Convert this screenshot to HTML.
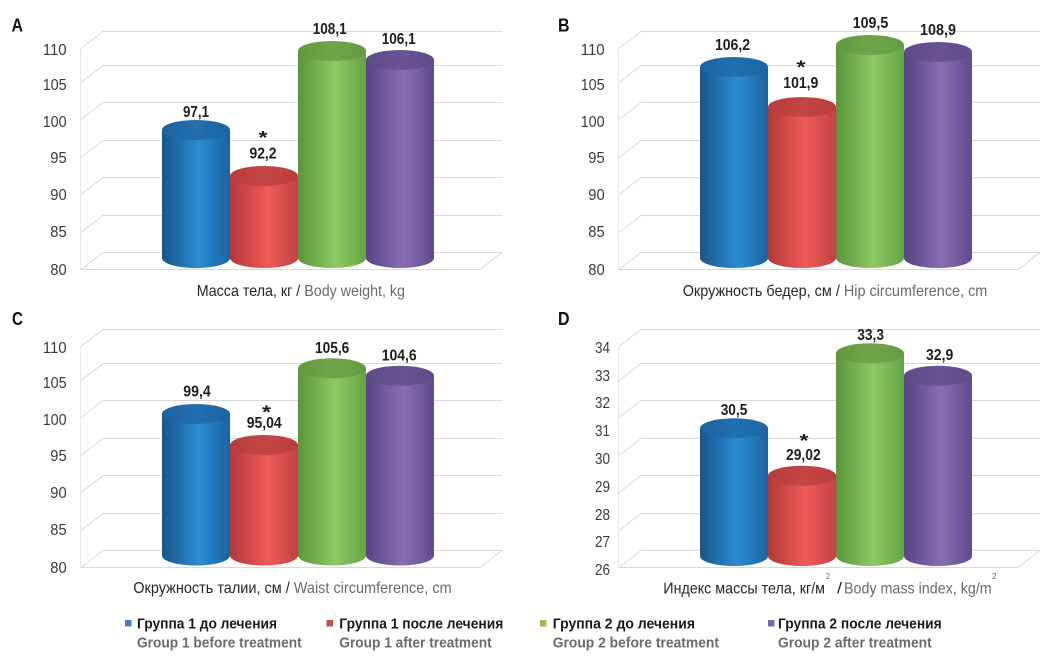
<!DOCTYPE html>
<html>
<head>
<meta charset="utf-8">
<style>
html,body{margin:0;padding:0;background:#fff;}
svg{display:block;font-family:"Liberation Sans","DejaVu Sans",sans-serif;}
.tk{font-size:16px;fill:#3a3a3a;}
.vl{font-size:16px;font-weight:bold;fill:#1e1e1e;}
.st{font-size:18px;font-weight:bold;fill:#1e1e1e;}
.tt{font-size:16px;fill:#262626;}
.gr{fill:#6a6a6a;}
.pl{font-size:18px;font-weight:bold;fill:#111;}
.l1{font-size:15px;font-weight:bold;fill:#1a1a1a;}
.l2{font-size:15px;font-weight:bold;fill:#6b6b6b;}
.g line{stroke:#d9d9d9;stroke-width:1;}
</style>
</head>
<body>
<svg width="1046" height="672" viewBox="0 0 1046 672" xmlns="http://www.w3.org/2000/svg">
<defs>
<linearGradient id="gb" x1="0" x2="1" y1="0" y2="0"><stop offset="0" stop-color="#17568a"/><stop offset="0.55" stop-color="#2b8dd3"/><stop offset="1" stop-color="#1b63a0"/></linearGradient>
<linearGradient id="cb" x1="0" x2="1" y1="0" y2="0"><stop offset="0" stop-color="#1b62a0"/><stop offset="0.5" stop-color="#2270ae"/><stop offset="1" stop-color="#1c64a2"/></linearGradient>
<linearGradient id="gr" x1="0" x2="1" y1="0" y2="0"><stop offset="0" stop-color="#b23838"/><stop offset="0.55" stop-color="#ef5b57"/><stop offset="1" stop-color="#c14242"/></linearGradient>
<linearGradient id="cr" x1="0" x2="1" y1="0" y2="0"><stop offset="0" stop-color="#b63c3b"/><stop offset="0.5" stop-color="#c44644"/><stop offset="1" stop-color="#b93e3d"/></linearGradient>
<linearGradient id="gg" x1="0" x2="1" y1="0" y2="0"><stop offset="0" stop-color="#5a963a"/><stop offset="0.55" stop-color="#8dc964"/><stop offset="1" stop-color="#66a343"/></linearGradient>
<linearGradient id="cg" x1="0" x2="1" y1="0" y2="0"><stop offset="0" stop-color="#62983f"/><stop offset="0.5" stop-color="#6fa64b"/><stop offset="1" stop-color="#649b41"/></linearGradient>
<linearGradient id="gp" x1="0" x2="1" y1="0" y2="0"><stop offset="0" stop-color="#574585"/><stop offset="0.55" stop-color="#8a6eb1"/><stop offset="1" stop-color="#5f4b8d"/></linearGradient>
<linearGradient id="cp" x1="0" x2="1" y1="0" y2="0"><stop offset="0" stop-color="#5f4a88"/><stop offset="0.5" stop-color="#6a5394"/><stop offset="1" stop-color="#614c8b"/></linearGradient>
<g id="grid" class="g">
<line x1="103" y1="31.5" x2="502" y2="31.5"/>
<line x1="103" y1="65.5" x2="502" y2="65.5"/>
<line x1="103" y1="102.5" x2="502" y2="102.5"/>
<line x1="103" y1="140.5" x2="502" y2="140.5"/>
<line x1="103" y1="177.5" x2="502" y2="177.5"/>
<line x1="103" y1="215.5" x2="502" y2="215.5"/>
<line x1="103" y1="252.5" x2="502" y2="252.5"/>
<line x1="81" y1="48.5" x2="103" y2="31.5"/>
<line x1="81" y1="82.5" x2="103" y2="65.5"/>
<line x1="81" y1="119.5" x2="103" y2="102.5"/>
<line x1="81" y1="157.5" x2="103" y2="140.5"/>
<line x1="81" y1="194.5" x2="103" y2="177.5"/>
<line x1="81" y1="232.5" x2="103" y2="215.5"/>
<line x1="81" y1="269.5" x2="103" y2="252.5"/>
<line x1="80" y1="269.5" x2="480" y2="269.5"/>
<line x1="480" y1="269.5" x2="502" y2="252.5"/>
<line x1="80.5" y1="48" x2="80.5" y2="270" style="stroke:#e8e8e8"/>
</g>
<g id="ticks100">
<text class="tk" x="42.7" y="55" textLength="24" lengthAdjust="spacingAndGlyphs">110</text>
<text class="tk" x="42.7" y="90" textLength="24" lengthAdjust="spacingAndGlyphs">105</text>
<text class="tk" x="42.7" y="127" textLength="24" lengthAdjust="spacingAndGlyphs">100</text>
<text class="tk" x="50.3" y="163" textLength="16.4" lengthAdjust="spacingAndGlyphs">95</text>
<text class="tk" x="50.3" y="200" textLength="16.4" lengthAdjust="spacingAndGlyphs">90</text>
<text class="tk" x="50.3" y="237" textLength="16.4" lengthAdjust="spacingAndGlyphs">85</text>
<text class="tk" x="50.3" y="275" textLength="16.4" lengthAdjust="spacingAndGlyphs">80</text>
</g>
</defs>

<!-- Panel letters -->
<text class="pl" x="11.5" y="31.5" textLength="11.5" lengthAdjust="spacingAndGlyphs">A</text>
<text class="pl" x="558" y="31.5" textLength="11.5" lengthAdjust="spacingAndGlyphs">B</text>
<text class="pl" x="12" y="325" textLength="11" lengthAdjust="spacingAndGlyphs">C</text>
<text class="pl" x="558" y="325" textLength="11.5" lengthAdjust="spacingAndGlyphs">D</text>

<!-- Panel A -->
<g transform="translate(0,0)">
<use href="#grid"/>
<use href="#ticks100"/>
<rect x="162" y="130" width="68" height="128" fill="url(#gb)"/><ellipse cx="196" cy="258" rx="34" ry="10" fill="url(#gb)"/><ellipse cx="196" cy="130" rx="34" ry="10" fill="url(#cb)"/>
<rect x="230" y="176" width="68" height="82" fill="url(#gr)"/><ellipse cx="264" cy="258" rx="34" ry="10" fill="url(#gr)"/><ellipse cx="264" cy="176" rx="34" ry="10" fill="url(#cr)"/>
<rect x="298" y="51" width="68" height="207" fill="url(#gg)"/><ellipse cx="332" cy="258" rx="34" ry="10" fill="url(#gg)"/><ellipse cx="332" cy="51" rx="34" ry="10" fill="url(#cg)"/>
<rect x="366" y="60" width="68" height="198" fill="url(#gp)"/><ellipse cx="400" cy="258" rx="34" ry="10" fill="url(#gp)"/><ellipse cx="400" cy="60" rx="34" ry="10" fill="url(#cp)"/>
<text class="vl" x="183" y="117" textLength="26" lengthAdjust="spacingAndGlyphs">97,1</text>
<text class="st" x="258.5" y="144" textLength="9" lengthAdjust="spacingAndGlyphs">*</text>
<text class="vl" x="249.5" y="158.5" textLength="27" lengthAdjust="spacingAndGlyphs">92,2</text>
<text class="vl" x="312.7" y="34" textLength="34" lengthAdjust="spacingAndGlyphs">108,1</text>
<text class="vl" x="381.7" y="44" textLength="34" lengthAdjust="spacingAndGlyphs">106,1</text>
<text class="tt" x="196.7" y="296" textLength="208.3" lengthAdjust="spacingAndGlyphs">Масса тела, кг / <tspan class="gr">Body weight, kg</tspan></text>
</g>

<!-- Panel B -->
<g transform="translate(538,0)">
<use href="#grid"/>
<use href="#ticks100"/>
<rect x="162" y="67" width="68" height="191" fill="url(#gb)"/><ellipse cx="196" cy="258" rx="34" ry="10" fill="url(#gb)"/><ellipse cx="196" cy="67" rx="34" ry="10" fill="url(#cb)"/>
<rect x="230" y="107" width="68" height="151" fill="url(#gr)"/><ellipse cx="264" cy="258" rx="34" ry="10" fill="url(#gr)"/><ellipse cx="264" cy="107" rx="34" ry="10" fill="url(#cr)"/>
<rect x="298" y="45" width="68" height="213" fill="url(#gg)"/><ellipse cx="332" cy="258" rx="34" ry="10" fill="url(#gg)"/><ellipse cx="332" cy="45" rx="34" ry="10" fill="url(#cg)"/>
<rect x="366" y="52" width="68" height="206" fill="url(#gp)"/><ellipse cx="400" cy="258" rx="34" ry="10" fill="url(#gp)"/><ellipse cx="400" cy="52" rx="34" ry="10" fill="url(#cp)"/>
<text class="vl" x="177" y="50" textLength="35" lengthAdjust="spacingAndGlyphs">106,2</text>
<text class="st" x="258.5" y="73.5" textLength="9" lengthAdjust="spacingAndGlyphs">*</text>
<text class="vl" x="245.3" y="88" textLength="35" lengthAdjust="spacingAndGlyphs">101,9</text>
<text class="vl" x="314.7" y="28" textLength="35.6" lengthAdjust="spacingAndGlyphs">109,5</text>
<text class="vl" x="382" y="35" textLength="36" lengthAdjust="spacingAndGlyphs">108,9</text>
<text class="tt" x="144.7" y="296" textLength="304.6" lengthAdjust="spacingAndGlyphs">Окружность бедер, см / <tspan class="gr">Hip circumference, cm</tspan></text>
</g>

<!-- Panel C -->
<g transform="translate(0,298)">
<use href="#grid"/>
<use href="#ticks100"/>
<rect x="162" y="116" width="68" height="141.5" fill="url(#gb)"/><ellipse cx="196" cy="257.5" rx="34" ry="10" fill="url(#gb)"/><ellipse cx="196" cy="116" rx="34" ry="10" fill="url(#cb)"/>
<rect x="230" y="147" width="68" height="110.5" fill="url(#gr)"/><ellipse cx="264" cy="257.5" rx="34" ry="10" fill="url(#gr)"/><ellipse cx="264" cy="147" rx="34" ry="10" fill="url(#cr)"/>
<rect x="298" y="70.3" width="68" height="187.2" fill="url(#gg)"/><ellipse cx="332" cy="257.5" rx="34" ry="10" fill="url(#gg)"/><ellipse cx="332" cy="70.3" rx="34" ry="10" fill="url(#cg)"/>
<rect x="366" y="77.7" width="68" height="179.8" fill="url(#gp)"/><ellipse cx="400" cy="257.5" rx="34" ry="10" fill="url(#gp)"/><ellipse cx="400" cy="77.7" rx="34" ry="10" fill="url(#cp)"/>
<text class="vl" x="183.3" y="98.5" textLength="27.4" lengthAdjust="spacingAndGlyphs">99,4</text>
<text class="st" x="262" y="120.5" textLength="9" lengthAdjust="spacingAndGlyphs">*</text>
<text class="vl" x="246.7" y="130" textLength="35" lengthAdjust="spacingAndGlyphs">95,04</text>
<text class="vl" x="315" y="55" textLength="34.3" lengthAdjust="spacingAndGlyphs">105,6</text>
<text class="vl" x="381.7" y="62.5" textLength="35" lengthAdjust="spacingAndGlyphs">104,6</text>
<text class="tt" x="133.3" y="295" textLength="318.4" lengthAdjust="spacingAndGlyphs">Окружность талии, см / <tspan class="gr">Waist circumference, cm</tspan></text>
</g>

<!-- Panel D -->
<g transform="translate(538,298)">
<use href="#grid"/>
<text class="tk" x="57" y="55" textLength="15" lengthAdjust="spacingAndGlyphs">34</text>
<text class="tk" x="57" y="83" textLength="15" lengthAdjust="spacingAndGlyphs">33</text>
<text class="tk" x="57" y="110" textLength="15" lengthAdjust="spacingAndGlyphs">32</text>
<text class="tk" x="57" y="138" textLength="15" lengthAdjust="spacingAndGlyphs">31</text>
<text class="tk" x="57" y="166" textLength="15" lengthAdjust="spacingAndGlyphs">30</text>
<text class="tk" x="57" y="194" textLength="15" lengthAdjust="spacingAndGlyphs">29</text>
<text class="tk" x="57" y="222" textLength="15" lengthAdjust="spacingAndGlyphs">28</text>
<text class="tk" x="57" y="249" textLength="15" lengthAdjust="spacingAndGlyphs">27</text>
<text class="tk" x="57" y="277" textLength="15" lengthAdjust="spacingAndGlyphs">26</text>
<rect x="162" y="130.3" width="68" height="127.7" fill="url(#gb)"/><ellipse cx="196" cy="258" rx="34" ry="10" fill="url(#gb)"/><ellipse cx="196" cy="130.3" rx="34" ry="10" fill="url(#cb)"/>
<rect x="230" y="177.7" width="68" height="80.3" fill="url(#gr)"/><ellipse cx="264" cy="258" rx="34" ry="10" fill="url(#gr)"/><ellipse cx="264" cy="177.7" rx="34" ry="10" fill="url(#cr)"/>
<rect x="298" y="55.3" width="68" height="202.7" fill="url(#gg)"/><ellipse cx="332" cy="258" rx="34" ry="10" fill="url(#gg)"/><ellipse cx="332" cy="55.3" rx="34" ry="10" fill="url(#cg)"/>
<rect x="366" y="77.7" width="68" height="180.3" fill="url(#gp)"/><ellipse cx="400" cy="258" rx="34" ry="10" fill="url(#gp)"/><ellipse cx="400" cy="77.7" rx="34" ry="10" fill="url(#cp)"/>
<text class="vl" x="182.7" y="117" textLength="26.6" lengthAdjust="spacingAndGlyphs">30,5</text>
<text class="st" x="261.5" y="149" textLength="9" lengthAdjust="spacingAndGlyphs">*</text>
<text class="vl" x="248" y="162" textLength="34.7" lengthAdjust="spacingAndGlyphs">29,02</text>
<text class="vl" x="319.3" y="42" textLength="26.7" lengthAdjust="spacingAndGlyphs">33,3</text>
<text class="vl" x="388" y="62" textLength="27.3" lengthAdjust="spacingAndGlyphs">32,9</text>
<text class="tt" x="125.3" y="295.5" textLength="161.7" lengthAdjust="spacingAndGlyphs">Индекс массы тела, кг/м</text>
<text class="tt gr" x="287.7" y="281" style="font-size:8px" textLength="4.3" lengthAdjust="spacingAndGlyphs">2</text>
<text class="tt" x="299" y="295.5" textLength="5" lengthAdjust="spacingAndGlyphs">/</text>
<text class="tt gr" x="306" y="295.5" textLength="147.7" lengthAdjust="spacingAndGlyphs">Body mass index, kg/m</text>
<text class="tt gr" x="454" y="281" style="font-size:8px" textLength="4.5" lengthAdjust="spacingAndGlyphs">2</text>
</g>

<!-- Legend -->
<rect x="125" y="620" width="6.5" height="6.5" fill="#4a7ebb"/>
<text class="l1" x="137" y="628.7" textLength="140" lengthAdjust="spacingAndGlyphs">Группа 1 до лечения</text>
<text class="l2" x="137" y="647.5" textLength="164.7" lengthAdjust="spacingAndGlyphs">Group 1 before treatment</text>
<rect x="326.5" y="620" width="6.5" height="6.5" fill="#c0504d"/>
<text class="l1" x="339.3" y="628.7" textLength="164" lengthAdjust="spacingAndGlyphs">Группа 1 после лечения</text>
<text class="l2" x="339.3" y="647.5" textLength="152.4" lengthAdjust="spacingAndGlyphs">Group 1 after treatment</text>
<rect x="540" y="620" width="6.5" height="6.5" fill="#9bbb59"/>
<text class="l1" x="552.7" y="628.7" textLength="142.3" lengthAdjust="spacingAndGlyphs">Группа 2 до лечения</text>
<text class="l2" x="552.7" y="647.5" textLength="166.3" lengthAdjust="spacingAndGlyphs">Group 2 before treatment</text>
<rect x="768" y="620" width="6.5" height="6.5" fill="#8064a2"/>
<text class="l1" x="778" y="628.7" textLength="163.7" lengthAdjust="spacingAndGlyphs">Группа 2 после лечения</text>
<text class="l2" x="778" y="647.5" textLength="153.7" lengthAdjust="spacingAndGlyphs">Group 2 after treatment</text>
</svg>
</body>
</html>
